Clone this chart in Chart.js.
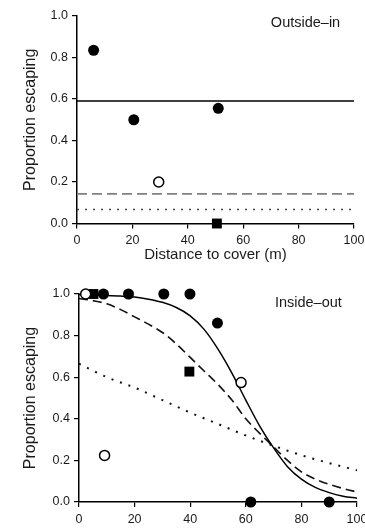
<!DOCTYPE html>
<html><head><meta charset="utf-8">
<script src="https://cdn.jsdelivr.net/npm/chart.js@4"></script>
<style>
html,body{margin:0;padding:0;background:#fff;overflow:hidden}
#top{position:absolute;left:0;top:0;width:365px;height:270px}
#bot{position:absolute;left:0;top:270px;width:365px;height:259px}
</style></head><body>
<div id="top"><canvas id="c1"></canvas></div>
<div id="bot"><canvas id="c2"></canvas></div>
<script>
// ---------- data ----------
const xTickValues = [0, 20, 40, 60, 80, 100];
const yTickValues = [0, 0.2, 0.4, 0.6, 0.8, 1.0];

// Outside-in panel
const topFilledX = [6, 20.5, 51];
const topFilledY = [0.835, 0.5, 0.555];
const topOpenX = [29.5];
const topOpenY = [0.2];
const topSquareX = [50.5];
const topSquareY = [0];
const topLineX = [0, 100];
const topSolidY = [0.59, 0.59];
const topDashedY = [0.143, 0.143];
const topDottedY = [0.067, 0.067];

// Inside-out panel
const botFilledX = [8.8, 17.8, 30.5, 39.9, 49.8, 61.8, 90];
const botFilledY = [1, 1, 1, 1, 0.86, 0, 0];
const botOpenX = [2.4, 9.2, 58.3];
const botOpenY = [1, 0.224, 0.574];
const botSquareX = [5.2, 39.7];
const botSquareY = [1, 0.627];
const curveX = [0, 5, 10, 15, 20, 25, 30, 35, 40, 45, 50, 55, 60, 65, 70, 75, 80, 85, 90, 95, 100];
const solidY = [0.997, 0.995, 0.993, 0.99, 0.985, 0.975, 0.96, 0.935, 0.895, 0.83, 0.735, 0.62, 0.49, 0.365, 0.26, 0.17, 0.11, 0.07, 0.045, 0.028, 0.018];
const dashedY = [0.978, 0.968, 0.953, 0.925, 0.89, 0.855, 0.815, 0.76, 0.695, 0.63, 0.565, 0.49, 0.40, 0.33, 0.265, 0.2, 0.145, 0.11, 0.085, 0.065, 0.048];
const dottedX = [0, 10, 20, 30, 40, 50, 60, 70, 80, 90, 100];
const dottedY = [0.665, 0.6, 0.55, 0.49, 0.43, 0.375, 0.32, 0.27, 0.225, 0.187, 0.152];

// ---------- helpers ----------
const pts = (xs, ys) => xs.map((x, i) => ({x: x, y: ys[i]}));
const FONT = "'Liberation Sans', Arial, sans-serif";
const INK = '#1a1a1a';

function filled(xs, ys) {
  return {data: pts(xs, ys), pointStyle: 'circle', pointRadius: 5.5, backgroundColor: '#000', borderColor: '#000', borderWidth: 0, showLine: false, clip: false, order: 0};
}
function open(xs, ys) {
  return {data: pts(xs, ys), pointStyle: 'circle', pointRadius: 5, backgroundColor: '#fff', borderColor: '#000', borderWidth: 1.5, showLine: false, clip: false, order: 0};
}
function square(xs, ys) {
  return {data: pts(xs, ys), pointStyle: 'rect', pointRadius: 7, backgroundColor: '#000', borderColor: '#000', borderWidth: 0, showLine: false, clip: false, order: 0};
}
function line(xs, ys, color, width, dash) {
  return {data: pts(xs, ys), showLine: true, pointRadius: 0, borderColor: color, borderWidth: width, borderDash: dash, cubicInterpolationMode: 'monotone', clip: false, order: 1, fill: false};
}

const panelLabel = {
  id: 'panelLabel',
  afterDatasetsDraw(chart, args, opts) {
    const ctx = chart.ctx;
    ctx.save();
    ctx.font = '14.5px ' + FONT;
    ctx.fillStyle = INK;
    ctx.textAlign = 'center';
    ctx.textBaseline = 'middle';
    ctx.fillText(opts.text, chart.scales.x.getPixelForValue(opts.x), chart.scales.y.getPixelForValue(opts.y));
    ctx.restore();
  }
};

function makeOptions(cfg) {
  return {
    responsive: true,
    maintainAspectRatio: false,
    animation: false,
    devicePixelRatio: 1,
    layout: {padding: cfg.padding},
    plugins: {legend: {display: false}, tooltip: {enabled: false}, panelLabel: cfg.label},
    scales: {
      x: {
        type: 'linear', min: 0, max: 100,
        afterBuildTicks: s => { s.ticks = xTickValues.map(v => ({value: v})); },
        afterFit: s => { s.height = cfg.xh; s.paddingLeft = 0; s.paddingRight = 0; },
        ticks: {font: {family: FONT, size: 12.5}, color: INK, padding: 5, maxRotation: 0, autoSkip: false},
        grid: {drawOnChartArea: false, drawTicks: true, tickLength: 5, color: '#000', lineWidth: 1.2},
        border: {display: true, color: '#000', width: 1.5},
        title: cfg.xTitle
      },
      y: {
        type: 'linear', min: 0, max: 1,
        afterBuildTicks: s => { s.ticks = yTickValues.map(v => ({value: v})); },
        afterFit: s => { s.width = cfg.yw; s.paddingTop = 0; s.paddingBottom = 0; },
        ticks: {font: {family: FONT, size: 12.5}, color: INK, padding: 4, callback: v => v.toFixed(1)},
        grid: {drawOnChartArea: false, drawTicks: true, tickLength: 5, color: '#000', lineWidth: 1.2},
        border: {display: true, color: '#000', width: 1.5},
        title: {display: true, text: 'Proportion escaping', font: {family: FONT, size: 16}, color: INK, padding: {top: 21, bottom: 0}}
      }
    }
  };
}

new Chart(document.getElementById('c1'), {
  type: 'scatter',
  data: {datasets: [
    filled(topFilledX, topFilledY),
    open(topOpenX, topOpenY),
    square(topSquareX, topSquareY),
    line(topLineX, topSolidY, '#000', 1.5, []),
    line(topLineX, topDashedY, '#808080', 1.6, [10, 5]),
    line(topLineX, topDottedY, '#444', 1.5, [2, 6])
  ]},
  options: makeOptions({
    padding: {left: 0, right: 11, top: 16, bottom: 0},
    xh: 46.5, yw: 77,
    label: {text: 'Outside–in', x: 82.5, y: 0.965},
    xTitle: {display: true, text: 'Distance to cover (m)', font: {family: FONT, size: 15}, color: INK, padding: {top: 0, bottom: 6}}
  }),
  plugins: [panelLabel]
});

new Chart(document.getElementById('c2'), {
  type: 'scatter',
  data: {datasets: [
    filled(botFilledX, botFilledY),
    open(botOpenX, botOpenY),
    square(botSquareX, botSquareY),
    line(curveX, solidY, '#000', 1.5, []),
    line(curveX, dashedY, '#111', 1.6, [9, 5]),
    line(dottedX, dottedY, '#111', 2, [2, 7])
  ]},
  options: makeOptions({
    padding: {left: 0, right: 8, top: 24, bottom: 0},
    xh: 27, yw: 79,
    label: {text: 'Inside–out', x: 82.5, y: 0.955},
    xTitle: {display: false}
  }),
  plugins: [panelLabel]
});
</script>
</body></html>
